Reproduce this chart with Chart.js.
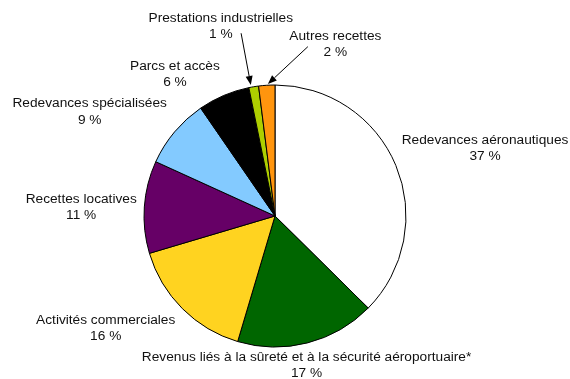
<!DOCTYPE html>
<html>
<head>
<meta charset="utf-8">
<script src="https://cdn.jsdelivr.net/npm/chart.js@4.4.0/dist/chart.umd.min.js"></script>
<style>
  html, body { margin: 0; padding: 0; background: #fff; }
</style>
</head>
<body>
<canvas id="chartRevenus" width="570" height="379"></canvas>
<script>
const categories = [
  'Redevances aéronautiques',
  'Revenus liés à la sûreté et à la sécurité aéroportuaire*',
  'Activités commerciales',
  'Recettes locatives',
  'Redevances spécialisées',
  'Parcs et accès',
  'Prestations industrielles',
  'Autres recettes',
];
const shares = [37.4, 17.2, 15.8, 11.4, 8.6, 6.4, 1.2, 2.0];
const percentLabels = shares.map(v => Math.round(v) + ' %');
const sliceColors = ['#ffffff', '#006600', '#ffd320', '#660066', '#83caff', '#000000', '#aecf00', '#ff950e'];

// label placement: auto labels sit just outside the slice, small ones get an arrow
const LINE_H = 16.3;
const GAP = 10;
const labelLayout = [
  { nudge: [-3.4, 2.6] },
  { nudge: [-3.5, -3.3] },
  { nudge: [0, -4] },
  { nudge: [2.4, 1] },
  { nudge: [0, 2.7] },
  { nudge: [0, 4] },
  { arrow: true, text: [-32.9, -60.2], tail: [-12.6, -53.5], tip: [-2.9, -1.8] },
  { arrow: true, text: [68.6, -41], tail: [41.1, -38.6], tip: [1.1, -1.3] },
];

const labelPlugin = {
  id: 'sliceLabels',
  afterDatasetsDraw(chart) {
    const ctx = chart.ctx;
    const arcs = chart.getDatasetMeta(0).data;
    ctx.save();
    ctx.font = '13.7px "Liberation Sans", Arial, sans-serif';
    ctx.strokeStyle = '#000';
    ctx.textBaseline = 'middle';
    ctx.textAlign = 'center';
    arcs.forEach((arc, i) => {
      const p = arc.getProps(['x', 'y', 'startAngle', 'endAngle', 'outerRadius'], true);
      const mid = (p.startAngle + p.endAngle) / 2;
      const cos = Math.cos(mid);
      const sin = Math.sin(mid);
      const edgeX = p.x + cos * p.outerRadius;
      const edgeY = p.y + sin * p.outerRadius;
      const lines = [categories[i], percentLabels[i]];
      const w = Math.max(...lines.map(l => ctx.measureText(l).width));
      const h = lines.length * LINE_H;
      const lay = labelLayout[i];
      let cx, top;
      if (lay.arrow) {
        cx = edgeX + lay.text[0];
        top = edgeY + lay.text[1] - h / 2;
        // arrow from the label down to the slice edge
        const tx = edgeX + lay.tail[0];
        const ty = edgeY + lay.tail[1];
        const hx = edgeX + lay.tip[0];
        const hy = edgeY + lay.tip[1];
        const ang = Math.atan2(hy - ty, hx - tx);
        const len = 9, half = 3.5;
        const bx = hx - Math.cos(ang) * len;
        const by = hy - Math.sin(ang) * len;
        ctx.lineWidth = 1;
        ctx.beginPath();
        ctx.moveTo(tx, ty);
        ctx.lineTo(bx, by);
        ctx.stroke();
        ctx.beginPath();
        ctx.moveTo(hx, hy);
        ctx.lineTo(bx - Math.sin(ang) * half, by + Math.cos(ang) * half);
        ctx.lineTo(bx + Math.sin(ang) * half, by - Math.cos(ang) * half);
        ctx.closePath();
        ctx.fillStyle = '#000';
        ctx.fill();
      } else {
        const ax = p.x + cos * (p.outerRadius + GAP) + lay.nudge[0];
        const ay = p.y + sin * (p.outerRadius + GAP) + lay.nudge[1];
        if (Math.abs(cos) < 0.3) cx = ax;
        else if (cos > 0) cx = ax + w / 2;
        else cx = ax - w / 2;
        if (sin < -0.3) top = ay - h;
        else if (sin > 0.3) top = ay;
        else top = ay - h / 2;
      }
      ctx.fillStyle = '#111';
      lines.forEach((l, k) => ctx.fillText(l, cx, top + LINE_H * (k + 0.5)));
    });
    ctx.restore();
  },
};

const canvasRevenus = document.getElementById('chartRevenus').getContext('2d');

new Chart(canvasRevenus, {
  type: 'pie',
  data: {
    labels: categories,
    datasets: [
      {
        data: shares,
        backgroundColor: sliceColors,
        borderColor: '#000',
        borderWidth: 1,
      },
    ],
  },
  options: {
    responsive: false,
    animation: false,
    radius: 131,
    layout: {
      padding: { top: 85, bottom: 32, left: 0, right: 20 },
    },
    plugins: {
      legend: { display: false },
      tooltip: { enabled: false },
    },
  },
  plugins: [labelPlugin],
});
</script>
</body>
</html>
